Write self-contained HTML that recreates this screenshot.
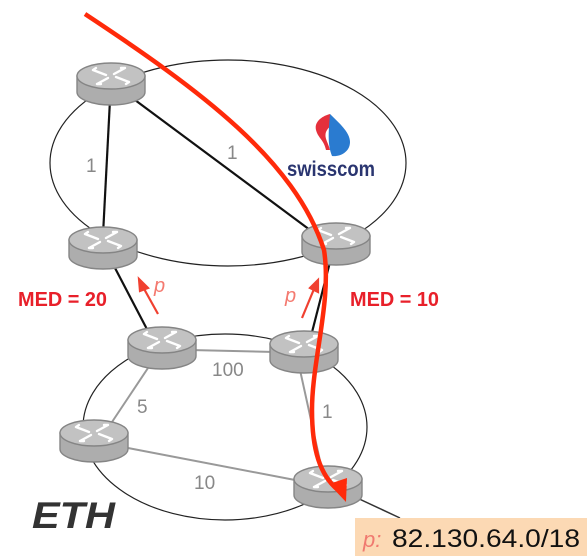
<!DOCTYPE html>
<html><head><meta charset="utf-8"><style>
html,body{margin:0;padding:0;background:#fff;}
svg{display:block;}
</style></head><body>
<svg width="587" height="556" viewBox="0 0 587 556" xmlns="http://www.w3.org/2000/svg" font-family="Liberation Sans, sans-serif">
<defs>
<g id="r">
<path d="M1,14 V30 A34,13 0 0 0 69,30 V14 Z" fill="#adadad" stroke="#858585" stroke-width="1.4"/>
<ellipse cx="35" cy="14" rx="34" ry="13" fill="#c2c2c2" stroke="#858585" stroke-width="1.4"/>
<g stroke="#fff" stroke-width="2.4" fill="none" stroke-linecap="round">
<path d="M17,8 L30,13 M17,8 l3,-2"/>
<path d="M53,20 L40,15 M53,20 l-3,2"/>
<path d="M49,6 L38,12 M49,6 l-4,0"/>
<path d="M21,22 L32,16 M21,22 l4,0"/>
</g>
</g>
</defs>
<ellipse cx="228" cy="163" rx="178" ry="103" fill="none" stroke="#222" stroke-width="1.2"/>
<ellipse cx="225" cy="427" rx="142" ry="93" fill="none" stroke="#222" stroke-width="1.2"/>
<g stroke="#111" stroke-width="2.2">
<line x1="110" y1="100" x2="103" y2="235"/>
<line x1="135" y1="100" x2="310" y2="230"/>
<line x1="115" y1="268" x2="150" y2="335"/>
<line x1="330" y1="262" x2="310" y2="340"/>
</g>
<g stroke="#999" stroke-width="2">
<line x1="190" y1="350" x2="275" y2="352"/>
<line x1="150" y1="365" x2="110" y2="425"/>
<line x1="128" y1="448" x2="295" y2="480"/>
<line x1="300" y1="370" x2="322" y2="470"/>
</g>
<line x1="355" y1="497" x2="400" y2="518" stroke="#333" stroke-width="1.5"/>
<use href="#r" x="76" y="62"/>
<use href="#r" x="68" y="226"/>
<use href="#r" x="301" y="222"/>
<use href="#r" x="127" y="326"/>
<use href="#r" x="269" y="330"/>
<use href="#r" x="59" y="419"/>
<use href="#r" x="293" y="465"/>
<g fill="#888" font-size="19">
<text x="86" y="172">1</text>
<text x="227" y="159">1</text>
<text x="212" y="376">100</text>
<text x="137" y="413">5</text>
<text x="322" y="418">1</text>
<text x="194" y="489">10</text>
</g>
<path d="M330,114 c-8,2 -16,8 -14,16 c2,8 8,10 10,20 l4,0 c-2,-8 -6,-12 -4,-18 c2,-5 6,-6 8,-10 z" fill="#e5303c"/>
<path d="M330,114 c8,8 20,18 20,28 c0,10 -10,15 -18,14 c-4,-10 -4,-20 -2,-42 z" fill="#2a7bd0"/>
<text x="287" y="176" font-size="21" font-weight="bold" fill="#2a3570" textLength="88" lengthAdjust="spacingAndGlyphs">swisscom</text>
<text x="18" y="306" font-size="20" font-weight="bold" fill="#e8202a" textLength="89" lengthAdjust="spacingAndGlyphs">MED = 20</text>
<text x="350" y="306" font-size="20" font-weight="bold" fill="#e8202a" textLength="89" lengthAdjust="spacingAndGlyphs">MED = 10</text>
<g stroke="#f04030" stroke-width="2.2" fill="#f04030">
<line x1="158" y1="314" x2="143" y2="287"/>
<path d="M139,279 L148,288 L140,291 Z"/>
<line x1="302" y1="318" x2="314" y2="289"/>
<path d="M318,280 L318,292 L310,288 Z"/>
</g>
<text x="154" y="292" font-size="20" font-style="italic" fill="#f47a70">p</text>
<text x="285" y="302" font-size="20" font-style="italic" fill="#f47a70">p</text>
<path d="M85,14 C200,90 295,160 324,250 C332,300 312,360 312,410 C312,450 320,475 338,490" fill="none" stroke="#ff2a0a" stroke-width="4.5"/>
<path d="M329,484 L347,478 L346,502 Z" fill="#ff2a0a"/>
<text x="32" y="528" font-size="37" font-weight="bold" font-style="italic" fill="#333" textLength="83" lengthAdjust="spacingAndGlyphs">ETH</text>
<rect x="355" y="518" width="232" height="38" fill="#fcd9b4"/>
<text x="363" y="547" font-size="22" font-style="italic" fill="#f07a70">p:</text>
<text x="392" y="547" font-size="25" fill="#111" textLength="188" lengthAdjust="spacingAndGlyphs">82.130.64.0/18</text>
</svg>
</body></html>
